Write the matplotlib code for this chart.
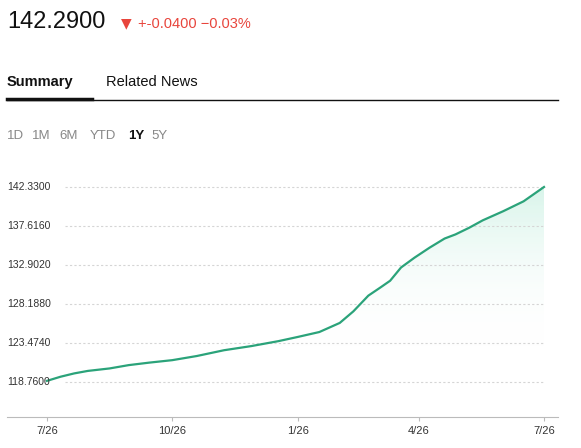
import matplotlib
matplotlib.use("Agg")
import matplotlib.pyplot as plt
import numpy as np

days = [0, 10, 20, 30, 46, 60, 75, 92, 110, 130, 150, 170, 184, 200, 215, 225, 236, 245, 252, 260, 270, 281, 292, 300, 310, 320, 335, 350, 365]
values = [118.9, 119.4, 119.8, 120.1, 120.4, 120.8, 121.1, 121.4, 121.9, 122.6, 123.1, 123.7, 124.2, 124.8, 125.9, 127.3, 129.2, 130.2, 131.0, 132.6, 133.8, 135.0, 136.1, 136.6, 137.4, 138.3, 139.4, 140.6, 142.33]
yticks = [118.7600, 123.4740, 128.1880, 132.9020, 137.6160, 142.3300]
xtick_days = [0, 92, 184, 273, 365]
xtick_labels = ["7/26", "10/26", "1/26", "4/26", "7/26"]

W, H = 581, 448
fig = plt.figure(figsize=(W/100, H/100), dpi=100)
fig.patch.set_facecolor("white")

def px(x, y):
    return x / W, 1 - y / H

ppd = (544 - 47) / 365.0
x0 = -(47 - 7) / ppd
x1 = 365 + (558 - 544) / ppd
ppu = (382 - 187) / (142.33 - 118.76)
ybot = 118.76 - (417 - 382) / ppu
ytop = 142.33 + (187 - 170) / ppu

l, b = px(7, 417)
r, t = px(558, 170)
ax = fig.add_axes([l, b, r - l, t - b])
ax.set_xlim(x0, x1)
ax.set_ylim(ybot, ytop)
for s in ["top", "right", "left"]:
    ax.spines[s].set_visible(False)
ax.spines["bottom"].set_color("#bbbbbb")
ax.set_yticks([])
ax.set_xticks(xtick_days)
ax.set_xticklabels(xtick_labels, fontsize=8, color="#333333", family="Liberation Sans")
ax.tick_params(axis="x", length=3, color="#bbbbbb")

gx0 = (65 - 47) / ppd
for yv in yticks:
    ax.hlines(yv, gx0, 365, colors="#d5d5d5", linestyles=(0, (2, 2)), linewidth=0.8)
    ax.text(x0, yv, f"{yv:.4f}", fontsize=7.5, color="#333333", va="center", ha="left",
            family="Liberation Sans", zorder=5)

d = np.array(days, float); v = np.array(values)
fb = 123.0
grad = np.linspace(0, 1, 256).reshape(-1, 1)
from matplotlib.colors import LinearSegmentedColormap
cmap = LinearSegmentedColormap.from_list("g", [(1, 1, 1, 0), (0.85, 0.96, 0.92, 1)])
im = ax.imshow(grad, extent=[0, 365, fb, 142.33], origin="lower", aspect="auto", cmap=cmap, zorder=1)
poly = ax.fill_between(d, v, fb, where=v >= fb, interpolate=True, color="none")
im.set_clip_path(poly.get_paths()[0], transform=ax.transData)
ax.plot(d, v, color="#2ba37a", linewidth=1.6, zorder=3)

fig.text(*px(7, 22), "142.2900", fontsize=17, va="center", ha="left", family="Liberation Sans", color="#111111")
fig.text(*px(121, 23), "▼", fontsize=10, va="center", ha="left", color="#e8453c", family="DejaVu Sans")
fig.text(*px(138, 24), "+-0.0400 \u22120.03%", fontsize=10.5, va="center", ha="left", color="#e8453c", family="Liberation Sans")
fig.text(*px(7, 82), "Summary", fontsize=10.5, fontweight="bold", va="center", ha="left", family="Liberation Sans", color="#111111")
fig.text(*px(106, 82), "Related News", fontsize=10.5, va="center", ha="left", family="Liberation Sans", color="#111111")
fig.add_artist(plt.Line2D([7/W, 558/W], [1-100/H]*2, color="#111111", linewidth=1))
fig.add_artist(plt.Line2D([7/W, 92/W], [1-99/H]*2, color="#111111", linewidth=2.5))
rx = [7, 32, 59, 90, 128, 151]
for x, lab in zip(rx, ["1D", "1M", "6M", "YTD", "1Y", "5Y"]):
    fig.text(*px(x, 136), lab, fontsize=9.5, va="center", ha="left", family="Liberation Sans",
             color="#111111" if lab == "1Y" else "#888888", fontweight="bold" if lab == "1Y" else "normal")

fig.savefig("out.png", dpi=100)
